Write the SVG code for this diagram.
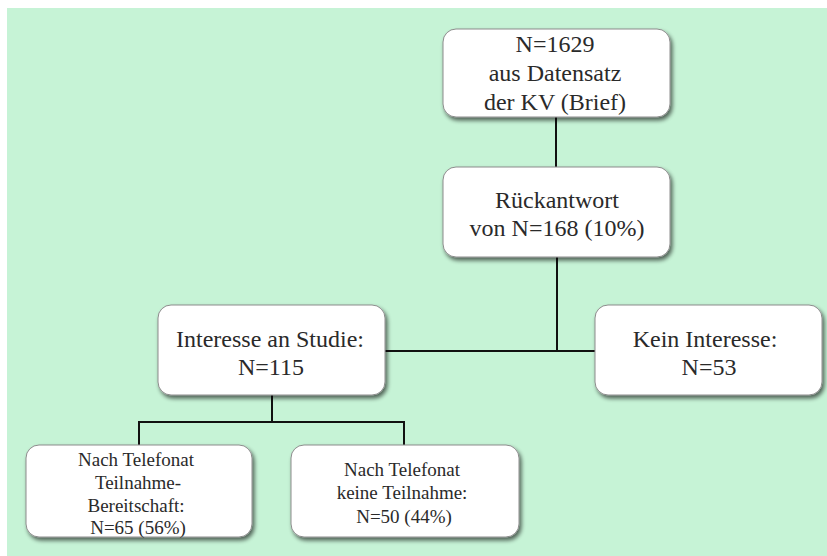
<svg xmlns="http://www.w3.org/2000/svg" width="827" height="556" viewBox="0 0 827 556">
  <defs>
    <filter id="shadow" x="-10%" y="-10%" width="125%" height="130%">
      <feGaussianBlur in="SourceAlpha" stdDeviation="2"/>
      <feOffset dx="2" dy="3" result="blur"/>
      <feComponentTransfer><feFuncA type="linear" slope="0.6"/></feComponentTransfer>
      <feMerge><feMergeNode/><feMergeNode in="SourceGraphic"/></feMerge>
    </filter>
  </defs>
  <style>
    .box { fill: #ffffff; stroke: #8c8c8c; stroke-width: 1; filter: url(#shadow); }
    .big { font-size: 24px; fill: #2a2a2a; text-anchor: middle; }
    .small { font-size: 19px; fill: #2a2a2a; text-anchor: middle; }
    .conn { stroke: #111111; stroke-width: 2; fill: none; }
  </style>
  <rect x="0" y="0" width="827" height="556" fill="#ffffff"/>
  <rect x="7" y="8" width="820" height="548" fill="#c6f3d6"/>

  <g id="connectors">
    <path class="conn" d="M556,117 V167"/>
    <path class="conn" d="M557,257 V351"/>
    <path class="conn" d="M385,351 H595"/>
    <path class="conn" d="M272,395 V422"/>
    <path class="conn" d="M139,445 V422 H404 V445"/>
  </g>

  <g font-family="'Liberation Serif', 'Times New Roman', Times, 'DejaVu Serif', serif">
  <g id="node-total">
    <rect class="box" x="443" y="29" width="227" height="88" rx="13"/>
    <text class="big" x="555" y="52">N=1629</text>
    <text class="big" x="555" y="81">aus Datensatz</text>
    <text class="big" x="555" y="110">der KV (Brief)</text>
  </g>

  <g id="node-response">
    <rect class="box" x="443" y="167" width="227" height="90" rx="13"/>
    <text class="big" x="557" y="207.5">Rückantwort</text>
    <text class="big" x="557" y="236">von N=168 (10%)</text>
  </g>

  <g id="node-interest">
    <rect class="box" x="158" y="305" width="227" height="90" rx="13"/>
    <text class="big" x="270" y="346.5">Interesse an Studie:</text>
    <text class="big" x="271" y="375">N=115</text>
  </g>

  <g id="node-nointerest">
    <rect class="box" x="595" y="305" width="227" height="90" rx="13"/>
    <text class="big" x="705" y="346.5">Kein Interesse:</text>
    <text class="big" x="709" y="375">N=53</text>
  </g>

  <g id="node-participate">
    <rect class="box" x="26" y="445" width="226" height="92" rx="13"/>
    <text class="small" x="136" y="466">Nach Telefonat</text>
    <text class="small" x="138" y="489">Teilnahme-</text>
    <text class="small" x="136" y="512">Bereitschaft:</text>
    <text class="small" x="138" y="534">N=65 (56%)</text>
  </g>

  <g id="node-noparticipate">
    <rect class="box" x="291" y="445" width="228" height="92" rx="13"/>
    <text class="small" x="402" y="475.5">Nach Telefonat</text>
    <text class="small" x="402" y="499">keine Teilnahme:</text>
    <text class="small" x="404" y="522.5">N=50 (44%)</text>
  </g>
  </g>
</svg>
